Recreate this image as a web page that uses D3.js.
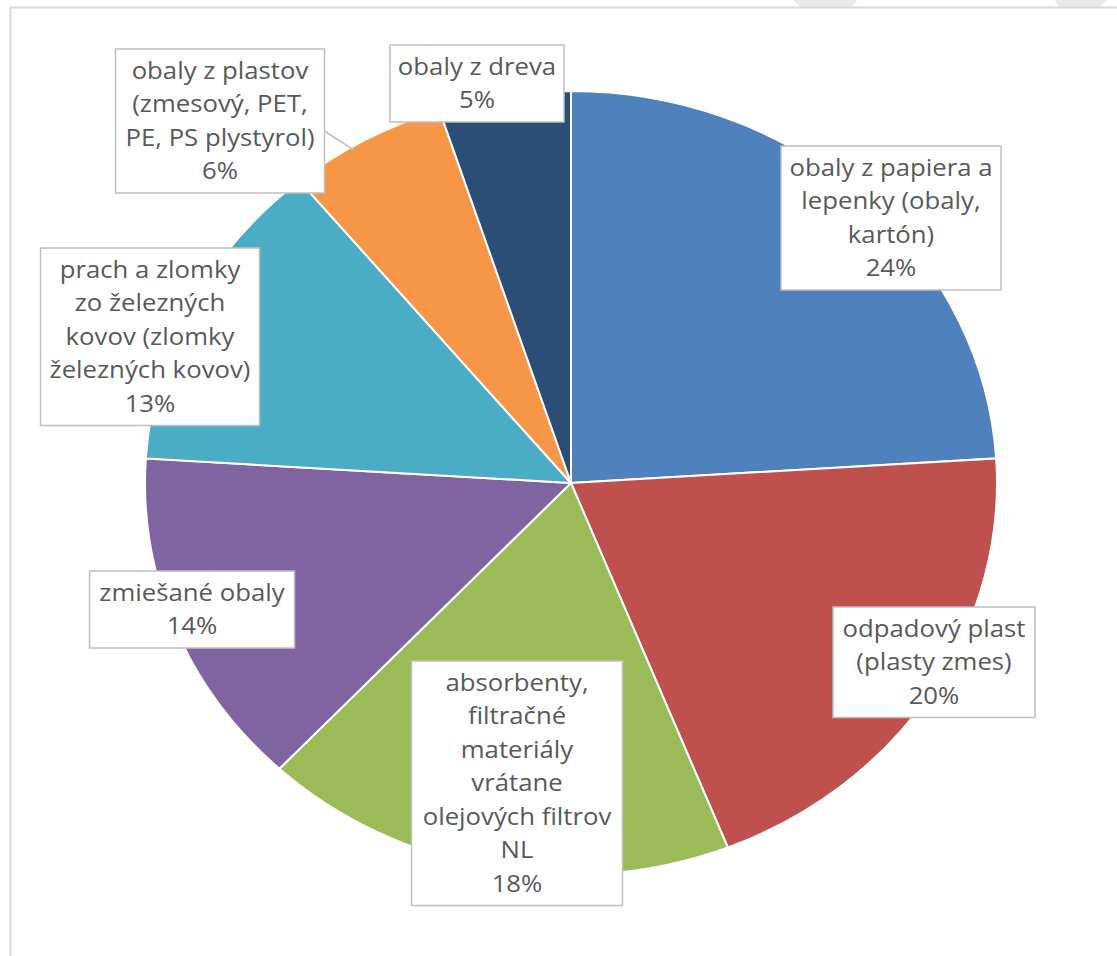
<!DOCTYPE html>
<html>
<head>
<meta charset="utf-8">
<script src="https://cdn.jsdelivr.net/npm/d3@7"></script>
<style>
  html, body { margin: 0; padding: 0; background: #fff; }
  svg { display: block; }
</style>
</head>
<body>
<svg id="chart" width="1117" height="956"></svg>
<script>
// Waste composition shares (%)
const categories = [
  "obaly z papiera a\nlepenky (obaly,\nkartón)",
  "odpadový plast\n(plasty zmes)",
  "absorbenty,\nfiltračné\nmateriály\nvrátane\nolejových filtrov\nNL",
  "zmiešané obaly",
  "prach a zlomky\nzo železných\nkovov (zlomky\nželezných kovov)",
  "obaly z plastov\n(zmesový, PET,\nPE, PS plystyrol)",
  "obaly z dreva"
];
const values = [24, 20, 18, 14, 13, 6, 5];
const colors = ["#4F81BD", "#C0504D", "#9BBB59", "#8064A2", "#4BACC6", "#F79646", "#2C4D75"];

// Callout boxes: centre x, top y, width (page coordinates)
const labelBoxes = [
  { cx: 891, top: 146, w: 220 },
  { cx: 934, top: 607, w: 202 },
  { cx: 517, top: 661, w: 211 },
  { cx: 192, top: 571, w: 205 },
  { cx: 150, top: 248, w: 219 },
  { cx: 220, top: 49,  w: 209 },
  { cx: 477, top: 45,  w: 174 }
];

const W = 1117, H = 956;
const cx = 571, cy = 483, rx = 426, ry = 392;
const stretch = rx / ry;          // the pie is drawn slightly wider than tall
const textStretch = 1.12;
const lineH = 33.5, padTop = 5;

const svg = d3.select("#chart");

// Faint shapes along the top edge
const deco = svg.append("g").attr("fill", "#e8e8e8");
deco.append("polygon").attr("points", "793,0 857,0 852,7 800,7");
deco.append("polygon").attr("points", "1055,0 1107,0 1100,7 1058,7");

// Chart frame
svg.append("path")
  .attr("d", `M10.5,${H} V7.5 H${W}`)
  .attr("fill", "none")
  .attr("stroke", "#d9d9d9")
  .attr("stroke-width", 2);

const pie = d3.pie().sort(null).value(d => d)(values);
const arc = d3.arc().innerRadius(0).outerRadius(ry);

const pieG = svg.append("g")
  .attr("transform", `translate(${cx},${cy}) scale(${stretch},1)`);

pieG.selectAll("path.slice")
  .data(pie)
  .join("path")
  .attr("class", "slice")
  .attr("d", arc)
  .attr("fill", (d, i) => colors[i])
  .attr("stroke", "#fff")
  .attr("stroke-width", 2)
  .attr("vector-effect", "non-scaling-stroke");

// Point on the elliptical rim at a given pie angle
function rimPoint(angle, k) {
  return [cx + Math.sin(angle) * rx * k, cy - Math.cos(angle) * ry * k];
}

// Leader line for the small plastics slice
{
  const i = 5;
  const a = pie[i].startAngle + (pie[i].endAngle - pie[i].startAngle) * 0.4;
  const [ex, ey] = rimPoint(a, 0.99);
  const b = labelBoxes[i];
  svg.append("line")
    .attr("x1", b.cx + b.w / 2).attr("y1", b.top + 82)
    .attr("x2", ex).attr("y2", ey)
    .attr("stroke", "#bfbfbf")
    .attr("stroke-width", 1.5);
}

// Callout boxes with category and percentage
const labels = svg.append("g")
  .style("font-family", "'Open Sans', Lato, sans-serif")
  .style("font-size", "23px")
  .attr("fill", "#595959");

categories.forEach((name, i) => {
  const lines = name.split("\n").concat([values[i] + "%"]);
  const b = labelBoxes[i];
  const h = lines.length * lineH + 10;
  const g = labels.append("g");
  g.append("rect")
    .attr("x", b.cx - b.w / 2).attr("y", b.top)
    .attr("width", b.w).attr("height", h)
    .attr("fill", "#fff")
    .attr("stroke", "#bfbfbf")
    .attr("stroke-width", 1.5);
  g.selectAll("text")
    .data(lines)
    .join("text")
    .attr("transform", (d, j) =>
      `translate(${b.cx},${b.top + padTop + lineH * (j + 0.5)}) scale(${textStretch},1)`)
    .attr("dy", "0.35em")
    .attr("text-anchor", "middle")
    .text(d => d);
});
</script>
</body>
</html>
